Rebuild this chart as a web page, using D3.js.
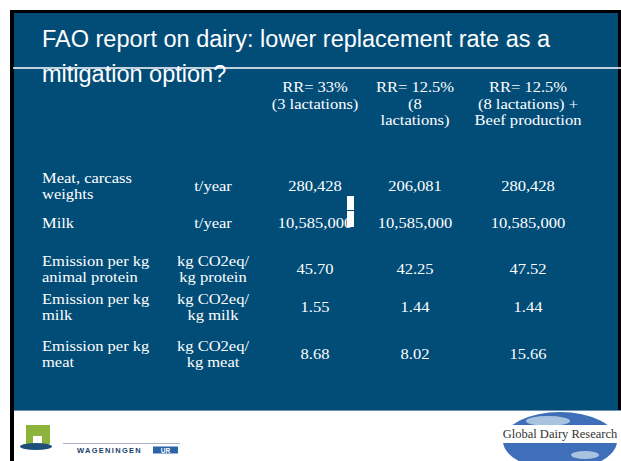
<!DOCTYPE html>
<html>
<head>
<meta charset="utf-8">
<script src="https://d3js.org/d3.v7.min.js"></script>
<style>
body { margin: 0; background: #fff; }
svg text { fill: #fff; }
</style>
</head>
<body>
<div id="slide"></div>
<script>
// table contents
var titleLines = ["FAO report on dairy: lower replacement rate as a", "mitigation option?"];
var colKeys = ["rr33", "rr125", "rr125beef"];
var colHeaders = [
  ["RR= 33%", "(3 lactations)"],
  ["RR= 12.5%", "(8", "lactations)"],
  ["RR= 12.5%", "(8 lactations) +", "Beef production"]
];
var rowLabels = [
  ["Meat, carcass", "weights"],
  ["Milk"],
  ["Emission per kg", "animal protein"],
  ["Emission per kg", "milk"],
  ["Emission per kg", "meat"]
];
var rowUnits = [
  ["t/year"],
  ["t/year"],
  ["kg CO2eq/", "kg protein"],
  ["kg CO2eq/", "kg milk"],
  ["kg CO2eq/", "kg meat"]
];
var rr33      = ["280,428", "10,585,000", "45.70", "1.55", "8.68"];
var rr125     = ["206,081", "10,585,000", "42.25", "1.44", "8.02"];
var rr125beef = ["280,428", "10,585,000", "47.52", "1.44", "15.66"];

var W = 621, H = 461;
var blue = "#024d78";
var serif = "'Liberation Serif', 'Times New Roman', serif";
var sans = "'Liberation Sans', Arial, sans-serif";
var fs = "14.5px", stretch = 1.14, lineH = 16.5;

var svg = d3.select("#slide").append("svg")
  .attr("width", W).attr("height", H);

// slide background + borders
svg.append("rect").attr("x", 10).attr("y", 10).attr("width", W - 10).attr("height", 400).attr("fill", "#000");
svg.append("rect").attr("x", 10).attr("y", 10).attr("width", 4).attr("height", H - 10).attr("fill", "#000");
svg.append("rect").attr("x", 14).attr("y", 13).attr("width", 604).attr("height", 397).attr("fill", blue);
svg.append("line").attr("x1", 14).attr("x2", W).attr("y1", 410.5).attr("y2", 410.5)
  .attr("stroke", "#6f93b3").attr("stroke-width", 1);

// title
svg.selectAll(".title").data(titleLines).enter().append("text")
  .attr("class", "title")
  .attr("x", 42)
  .attr("y", function(d, i) { return 47 + i * 35; })
  .style("font-family", sans)
  .style("font-size", "23.5px")
  .text(function(d) { return d; });

svg.append("line").attr("x1", 13).attr("x2", W).attr("y1", 68).attr("y2", 68)
  .attr("stroke", "#fff").attr("stroke-width", 1.3);

// scales (table rows are not evenly spaced on the slide)
var x = d3.scaleOrdinal().domain(colKeys).range([315, 415, 528]);
var y = d3.scaleOrdinal().domain(d3.range(rowLabels.length)).range([186, 223, 269, 307, 354]);

// slide text is a little wider than plain Times, so stretch it horizontally
function multiLine(g, lines, cx, cy, anchor, top) {
  var t = g.append("text")
    .attr("transform", "translate(" + cx + ",0) scale(" + stretch + ",1)")
    .attr("text-anchor", anchor)
    .style("font-family", serif)
    .style("font-size", fs);
  var off = top ? 0 : (lines.length - 1) / 2;
  lines.forEach(function(s, i) {
    t.append("tspan").attr("x", 0)
      .attr("y", cy + (i - off) * lineH)
      .attr("dy", "0.35em")
      .text(s);
  });
}

// column headers
var head = svg.append("g");
colKeys.forEach(function(k, i) {
  multiLine(head, colHeaders[i], x(k), 87, "middle", true);
});

// rows
var body = svg.append("g");
var series = { rr33: rr33, rr125: rr125, rr125beef: rr125beef };
rowLabels.forEach(function(lab, r) {
  multiLine(body, lab, 42, y(r), "start");
  multiLine(body, rowUnits[r], 213, y(r), "middle");
  colKeys.forEach(function(k) {
    multiLine(body, [series[k][r]], x(k), y(r), "middle");
  });
});

// white glitch block on the milk row
svg.append("rect").attr("x", 347).attr("y", 196).attr("width", 7).attr("height", 14).attr("fill", "#fff");
svg.append("rect").attr("x", 347).attr("y", 211).attr("width", 7).attr("height", 16).attr("fill", "#fff");

// Wageningen logo
var wur = svg.append("g");
wur.append("rect").attr("x", 26).attr("y", 425).attr("width", 24).attr("height", 19).attr("fill", "#8cb43c");
wur.append("rect").attr("x", 33).attr("y", 436).attr("width", 9).attr("height", 8).attr("fill", "#fff");
wur.append("ellipse").attr("cx", 36).attr("cy", 446.5).attr("rx", 16).attr("ry", 3.5).attr("fill", "#1d4f78");
wur.append("line").attr("x1", 63).attr("x2", 180).attr("y1", 443.5).attr("y2", 443.5)
  .attr("stroke", "#a9b4c0").attr("stroke-width", 1);
wur.append("text").attr("x", 77).attr("y", 453)
  .style("font-family", sans).style("font-size", "7.5px").style("font-weight", "bold")
  .style("letter-spacing", "1.3px").style("fill", "#1d3f6e")
  .text("WAGENINGEN");
wur.append("rect").attr("x", 153).attr("y", 446.5).attr("width", 25).attr("height", 7).attr("fill", "#2c64a8");
wur.append("text").attr("x", 165.5).attr("y", 452.5).attr("text-anchor", "middle")
  .style("font-family", sans).style("font-size", "6.5px").style("font-weight", "bold")
  .style("fill", "#fff").text("UR");

// Global Dairy Research logo
var gdr = svg.append("g");
gdr.append("ellipse").attr("cx", 560).attr("cy", 441).attr("rx", 57).attr("ry", 29).attr("fill", "#3f6fb8");
gdr.append("ellipse").attr("cx", 548).attr("cy", 421).attr("rx", 22).attr("ry", 5).attr("fill", "#a8c3e0");
gdr.append("ellipse").attr("cx", 585).attr("cy", 455).attr("rx", 14).attr("ry", 4).attr("fill", "#a8c3e0");
gdr.append("rect").attr("x", 502).attr("y", 425).attr("width", 117).attr("height", 18).attr("fill", "#fff");
gdr.append("text").attr("x", 560).attr("y", 438).attr("text-anchor", "middle")
  .style("font-family", serif).style("font-size", "12.5px").style("fill", "#333")
  .text("Global Dairy Research");
</script>
</body>
</html>
